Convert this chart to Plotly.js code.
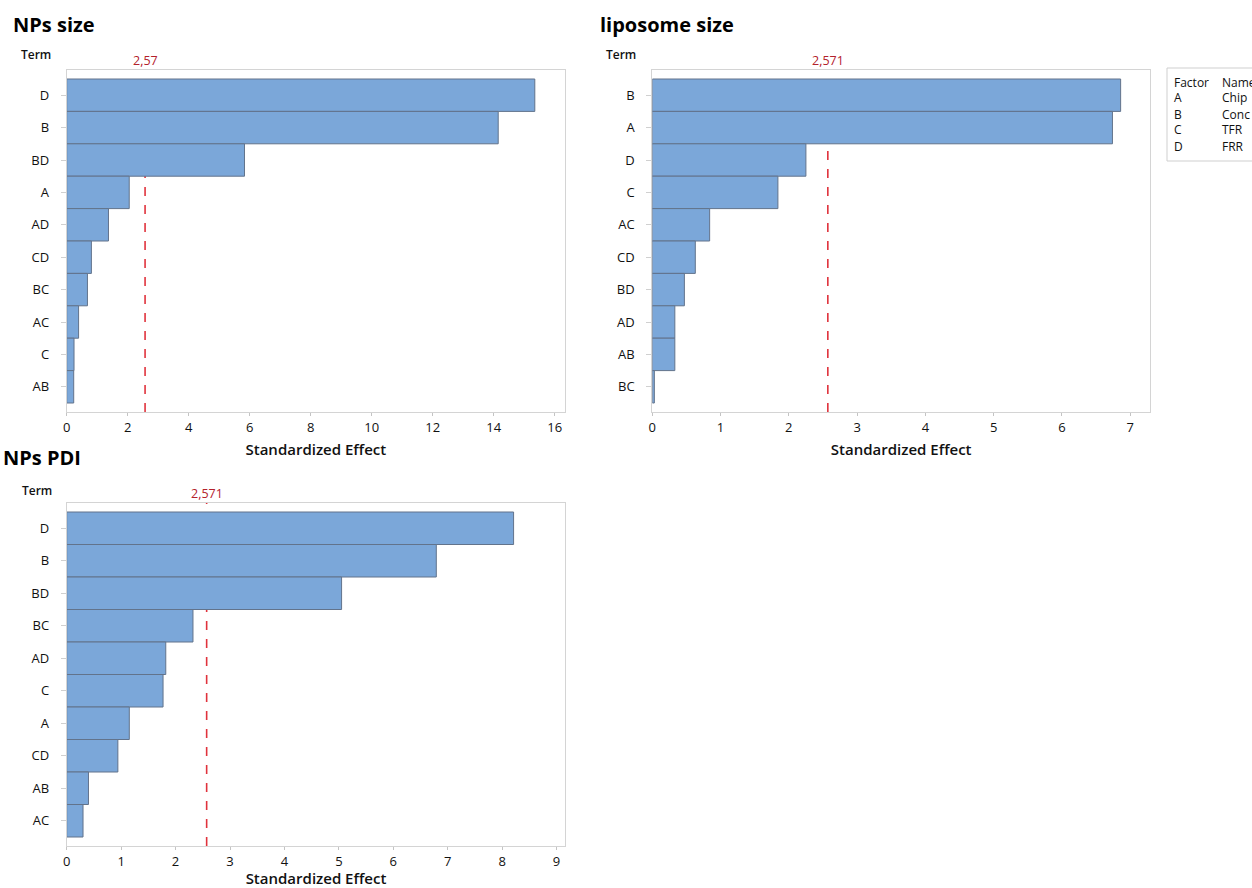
<!DOCTYPE html>
<html>
<head>
<meta charset="utf-8">
<script src="https://cdn.plot.ly/plotly-3.0.1.min.js"></script>
<style>
  html, body { margin: 0; padding: 0; background: #ffffff; }
  #chart { width: 1252px; height: 888px; }
</style>
</head>
<body>
<div id="chart"></div>
<script>
// Pareto charts of standardized effects (alpha = 0.05)

// NPs size
const termsNpsSize = ['D', 'B', 'BD', 'A', 'AD', 'CD', 'BC', 'AC', 'C', 'AB'];
const effectsNpsSize = [15.35, 14.15, 5.83, 2.05, 1.37, 0.81, 0.68, 0.39, 0.24, 0.23];
const thresholdNpsSize = 2.57;

// liposome size
const termsLiposome = ['B', 'A', 'D', 'C', 'AC', 'CD', 'BD', 'AD', 'AB', 'BC'];
const effectsLiposome = [6.86, 6.74, 2.25, 1.84, 0.84, 0.63, 0.47, 0.33, 0.33, 0.03];
const thresholdLiposome = 2.571;

// NPs PDI
const termsNpsPdi = ['D', 'B', 'BD', 'BC', 'AD', 'C', 'A', 'CD', 'AB', 'AC'];
const effectsNpsPdi = [8.21, 6.79, 5.05, 2.32, 1.82, 1.77, 1.15, 0.94, 0.40, 0.30];
const thresholdNpsPdi = 2.571;

// factor key
const factorCodes = ['A', 'B', 'C', 'D'];
const factorNames = ['Chip', 'Conc', 'TFR', 'FRR'];

const W = 1252, H = 888;
const px = v => v / W;          // left-to-right pixel -> paper x
const py = v => 1 - v / H;      // top-to-bottom pixel -> paper y

const FONT = '"Open Sans", "Noto Sans", sans-serif';
const BAR_FILL = '#7ba7d9';
const BAR_EDGE = '#62738b';
const RED_LINE = '#e0323c';
const RED_TEXT = '#b3212b';
const TEXT = '#111111';

const panels = [
  { title: 'NPs size', terms: termsNpsSize, effects: effectsNpsSize, thr: thresholdNpsSize,
    xmax: 16.34, dtick: 2, left: 66.7, right: 565, top: 70, bottom: 412,
    titleX: 11, titleY: 25, termX: 19, termY: 55 },
  { title: 'liposome size', terms: termsLiposome, effects: effectsLiposome, thr: thresholdLiposome,
    xmax: 7.29, dtick: 1, left: 652.3, right: 1150, top: 70, bottom: 412,
    titleX: 598, titleY: 25, termX: 604, termY: 55 },
  { title: 'NPs PDI', terms: termsNpsPdi, effects: effectsNpsPdi, thr: thresholdNpsPdi,
    xmax: 9.16, dtick: 1, left: 66.7, right: 565.3, top: 503, bottom: 846,
    titleX: 1, titleY: 458, termX: 20, termY: 490 }
];

const data = [];
const layout = {
  width: W, height: H,
  margin: { l: 0, r: 0, t: 0, b: 0 },
  paper_bgcolor: '#ffffff',
  plot_bgcolor: '#ffffff',
  showlegend: false,
  bargap: 0,
  font: { family: FONT, size: 13, color: TEXT },
  shapes: [],
  annotations: []
};

panels.forEach((p, i) => {
  const n = i === 0 ? '' : String(i + 1);
  const xa = 'x' + n, ya = 'y' + n;

  data.push({
    type: 'bar',
    orientation: 'h',
    x: p.effects,
    y: p.terms,
    xaxis: xa, yaxis: ya,
    marker: { color: BAR_FILL, line: { color: BAR_EDGE, width: 1 } },
    hoverinfo: 'x+y'
  });

  const nCat = p.terms.length;
  const plotH = p.bottom - p.top;
  // bars fill rows of equal height, with a small margin above and below
  const pad = 9 / (plotH / (nCat + 0.56));

  layout['xaxis' + n] = {
    domain: [px(p.left), px(p.right)],
    anchor: ya,
    range: [0, p.xmax],
    dtick: p.dtick,
    tick0: 0,
    showgrid: false,
    zeroline: false,
    showline: true,
    linecolor: '#d4d4d4',
    linewidth: 1,
    mirror: true,
    ticks: 'outside',
    ticklen: 3,
    tickcolor: '#c4c4c4',
    tickfont: { family: FONT, size: 13, color: TEXT },
    title: {
      text: 'Standardized Effect',
      font: { family: FONT, size: 15, color: TEXT, weight: 600 },
      standoff: 9
    },
    fixedrange: true
  };

  layout['yaxis' + n] = {
    domain: [py(p.bottom), py(p.top)],
    anchor: xa,
    type: 'category',
    categoryorder: 'array',
    categoryarray: p.terms,
    range: [nCat - 0.5 + pad, -0.5 - pad],
    showgrid: false,
    zeroline: false,
    showline: true,
    linecolor: '#d4d4d4',
    linewidth: 1,
    mirror: true,
    ticks: 'outside',
    ticklen: 5,
    tickcolor: '#d0d0d0',
    ticklabelstandoff: 9,
    tickfont: { family: FONT, size: 13, color: TEXT },
    fixedrange: true
  };

  // significance limit
  layout.shapes.push({
    type: 'line', layer: 'below',
    xref: xa, yref: ya + ' domain',
    x0: p.thr, x1: p.thr, y0: 0, y1: 1,
    line: { color: RED_LINE, width: 1.6, dash: 'dash' }
  });
  layout.annotations.push({
    xref: xa, yref: ya + ' domain',
    x: p.thr, y: 1, yshift: -1,
    xanchor: 'center', yanchor: 'bottom',
    text: String(p.thr).replace('.', ','),
    showarrow: false,
    font: { family: FONT, size: 12.5, color: RED_TEXT }
  });

  // panel title and axis caption
  layout.annotations.push({
    xref: 'paper', yref: 'paper',
    x: px(p.titleX), y: py(p.titleY),
    xanchor: 'left', yanchor: 'middle',
    text: p.title, showarrow: false,
    font: { family: FONT, size: 20, color: '#000000', weight: 700 }
  });
  layout.annotations.push({
    xref: 'paper', yref: 'paper',
    x: px(p.termX), y: py(p.termY),
    xanchor: 'left', yanchor: 'middle',
    text: 'Term', showarrow: false,
    font: { family: FONT, size: 12, color: TEXT, weight: 600 }
  });
});

// factor key box
layout.shapes.push({
  type: 'rect', xref: 'paper', yref: 'paper',
  x0: px(1167), x1: px(1270), y0: py(161), y1: py(68),
  line: { color: '#cfcfcf', width: 1 }, fillcolor: 'rgba(0,0,0,0)'
});
const keyRows = [['Factor', 'Name']].concat(factorCodes.map((c, k) => [c, factorNames[k]]));
keyRows.forEach((row, k) => {
  const yPix = 82 + k * 16;
  layout.annotations.push({
    xref: 'paper', yref: 'paper', x: px(1172), y: py(yPix),
    xanchor: 'left', yanchor: 'middle', text: row[0], showarrow: false,
    font: { family: FONT, size: 12, color: TEXT }
  });
  layout.annotations.push({
    xref: 'paper', yref: 'paper', x: px(1220), y: py(yPix),
    xanchor: 'left', yanchor: 'middle', text: row[1], showarrow: false,
    font: { family: FONT, size: 12, color: TEXT }
  });
});

Plotly.newPlot('chart', data, layout, { staticPlot: true, displayModeBar: false });
</script>
</body>
</html>
